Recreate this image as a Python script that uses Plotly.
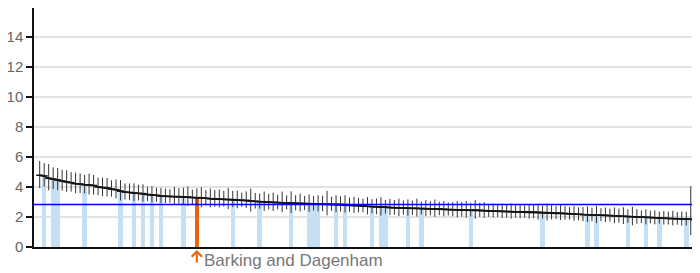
import plotly.graph_objects as go

# Sorted rates (one per local authority)
values = [
    4.78, 4.74, 4.58, 4.53, 4.47, 4.40, 4.34, 4.29, 4.22, 4.20,
    4.15, 4.13, 4.10, 4.00, 3.97, 3.94, 3.86, 3.82, 3.72, 3.66,
    3.64, 3.60, 3.58, 3.56, 3.50, 3.47, 3.45, 3.40, 3.38, 3.37,
    3.36, 3.36, 3.35, 3.33, 3.30, 3.29, 3.27, 3.25, 3.22, 3.20,
    3.19, 3.18, 3.17, 3.16, 3.13, 3.12, 3.11, 3.06, 3.04, 3.02,
    3.00, 2.98, 2.97, 2.96, 2.95, 2.94, 2.93, 2.92, 2.91, 2.90,
    2.89, 2.88, 2.87, 2.86, 2.86, 2.85, 2.85, 2.84, 2.83, 2.79,
    2.77, 2.76, 2.74, 2.71, 2.69, 2.67, 2.66, 2.65, 2.62, 2.61,
    2.60, 2.60, 2.59, 2.58, 2.58, 2.57, 2.56, 2.55, 2.55, 2.54,
    2.52, 2.50, 2.49, 2.48, 2.47, 2.47, 2.46, 2.46, 2.45, 2.43,
    2.41, 2.40, 2.39, 2.38, 2.37, 2.36, 2.35, 2.35, 2.34, 2.34,
    2.33, 2.32, 2.30, 2.29, 2.28, 2.27, 2.26, 2.24, 2.22, 2.20,
    2.18, 2.16, 2.15, 2.14, 2.13, 2.12, 2.11, 2.10, 2.08, 2.06,
    2.05, 2.03, 2.02, 2.00, 1.99, 1.98, 1.97, 1.95, 1.93, 1.92,
    1.90, 1.89, 1.88, 1.87, 1.86, 1.85, 1.78, 1.72,
]

err_upper = [
    0.95, 0.85, 0.95, 0.78, 0.80, 0.74, 0.78, 0.70, 0.74, 0.70,
    0.66, 0.76, 0.70, 0.62, 0.66, 0.66, 0.58, 0.68, 0.74, 0.58,
    0.60, 0.64, 0.56, 0.62, 0.52, 0.58, 0.50, 0.54, 0.52, 0.48,
    0.64, 0.56, 0.60, 0.70, 0.52, 0.62, 0.72, 0.54, 0.68, 0.60,
    0.64, 0.56, 0.76, 0.58, 0.64, 0.50, 0.60, 0.82, 0.56, 0.54,
    0.70, 0.56, 0.66, 0.52, 0.74, 0.50, 0.78, 0.54, 0.64, 0.50,
    0.62, 0.52, 0.58, 0.56, 0.88, 0.50, 0.60, 0.54, 0.62, 0.50,
    0.58, 0.52, 0.48, 0.62, 0.50, 0.56, 0.66, 0.48, 0.58, 0.52,
    0.62, 0.50, 0.58, 0.52, 0.64, 0.46, 0.56, 0.50, 0.62, 0.48,
    0.54, 0.46, 0.50, 0.58, 0.52, 0.60, 0.48, 0.66, 0.50, 0.56,
    0.46, 0.50, 0.44, 0.52, 0.48, 0.54, 0.46, 0.50, 0.44, 0.52,
    0.48, 0.56, 0.46, 0.60, 0.50, 0.46, 0.54, 0.48, 0.44, 0.52,
    0.46, 0.50, 0.56, 0.48, 0.62, 0.46, 0.52, 0.46, 0.56, 0.50,
    0.60, 0.48, 0.66, 0.52, 0.44, 0.54, 0.46, 0.50, 0.42, 0.48,
    0.46, 0.52, 0.44, 0.50, 0.48, 2.20, 0.48, 0.40,
]

err_lower = [
    0.85, 0.72, 0.80, 0.66, 0.68, 0.64, 0.66, 0.60, 0.64, 0.60,
    0.58, 0.64, 0.60, 0.54, 0.58, 0.57, 0.50, 0.58, 0.62, 0.50,
    0.52, 0.55, 0.48, 0.54, 0.45, 0.50, 0.44, 0.47, 0.45, 0.42,
    0.55, 0.48, 0.52, 0.60, 0.45, 0.54, 0.62, 0.47, 0.58, 0.52,
    0.55, 0.48, 0.64, 0.50, 0.55, 0.44, 0.52, 0.70, 0.48, 0.47,
    0.60, 0.48, 0.57, 0.45, 0.63, 0.44, 0.66, 0.47, 0.55, 0.44,
    0.54, 0.45, 0.50, 0.48, 0.75, 0.44, 0.52, 0.47, 0.54, 0.44,
    0.50, 0.45, 0.42, 0.54, 0.44, 0.49, 0.57, 0.42, 0.50, 0.45,
    0.54, 0.44, 0.50, 0.45, 0.55, 0.40, 0.49, 0.44, 0.54, 0.42,
    0.47, 0.40, 0.44, 0.50, 0.45, 0.52, 0.42, 0.57, 0.44, 0.49,
    0.40, 0.44, 0.39, 0.45, 0.42, 0.47, 0.40, 0.44, 0.39, 0.45,
    0.42, 0.49, 0.40, 0.52, 0.44, 0.40, 0.47, 0.42, 0.39, 0.45,
    0.40, 0.44, 0.49, 0.42, 0.54, 0.40, 0.45, 0.40, 0.49, 0.44,
    0.52, 0.42, 0.57, 0.45, 0.39, 0.47, 0.40, 0.44, 0.37, 0.42,
    0.40, 0.45, 0.39, 0.44, 0.42, 1.05, 0.42, 0.35,
]

# Highlighted authorities (light blue) and the selected one (orange)
highlight_idx = [1, 3, 4, 10, 18, 21, 23, 25, 27, 32, 43, 49, 56, 60, 61, 62,
                 66, 68, 74, 76, 77, 82, 85, 96, 112, 122, 124, 131, 135, 138, 144]
selected_idx = 35
selected_name = "Barking and Dagenham"
england_value = 2.83

y_ticks = [0, 2, 4, 6, 8, 10, 12, 14]

x = list(range(len(values)))
bar_y = [values[i] if (i in highlight_idx or i == selected_idx) else None for i in x]
bar_colors = ["#e8650c" if i == selected_idx else "#c6dff3" for i in x]

fig = go.Figure()
fig.add_trace(go.Bar(
    x=x, y=bar_y, marker=dict(color=bar_colors, line=dict(width=0)),
    hoverinfo="skip", showlegend=False,
))
fig.add_trace(go.Scatter(
    x=x, y=values, mode="lines+markers",
    line=dict(color="#111111", width=1.5),
    marker=dict(symbol="line-ew", size=5, line=dict(color="#111111", width=1.5)),
    error_y=dict(type="data", array=err_upper, arrayminus=err_lower,
                 color="#333333", thickness=1, width=0),
    showlegend=False,
))
fig.add_hline(y=england_value, line=dict(color="#0000ff", width=1.5))

fig.add_annotation(
    x=selected_idx, y=0, xref="x", yref="y", text="", showarrow=True,
    ax=0, ay=17, arrowhead=4, arrowsize=1, arrowwidth=2, arrowcolor="#e8650c",
    standoff=3,
)
fig.add_annotation(
    x=selected_idx, y=0, xref="x", yref="y", text=selected_name, showarrow=False,
    xanchor="left", yanchor="middle", xshift=5, yshift=-13,
    font=dict(family="Liberation Sans, Arial, sans-serif", size=17, color="#777777"),
)

# the page body adds an 8px margin, so the figure is sized to fit the window
fig.update_layout(
    width=692, height=265,
    margin=dict(l=26, r=0, t=0, b=26),
    paper_bgcolor="white", plot_bgcolor="white",
    bargap=0,
    font=dict(family="Liberation Sans, Arial, sans-serif"),
)
fig.update_xaxes(
    range=[-1.27, 147.06], showgrid=False, zeroline=False,
    showline=True, linecolor="#111111", linewidth=1.5,
    showticklabels=False, ticks="", automargin=False,
)
fig.update_yaxes(
    range=[0, 15.93], tickvals=y_ticks, showgrid=True, gridcolor="#e3e3e3", gridwidth=1.5,
    zeroline=False, showline=True, linecolor="#111111", linewidth=1.5,
    ticks="outside", ticklen=6, tickcolor="#111111", tickwidth=1.5,
    tickfont=dict(size=15, color="#666666"), automargin=False,
)

fig.write_html("out.html")
